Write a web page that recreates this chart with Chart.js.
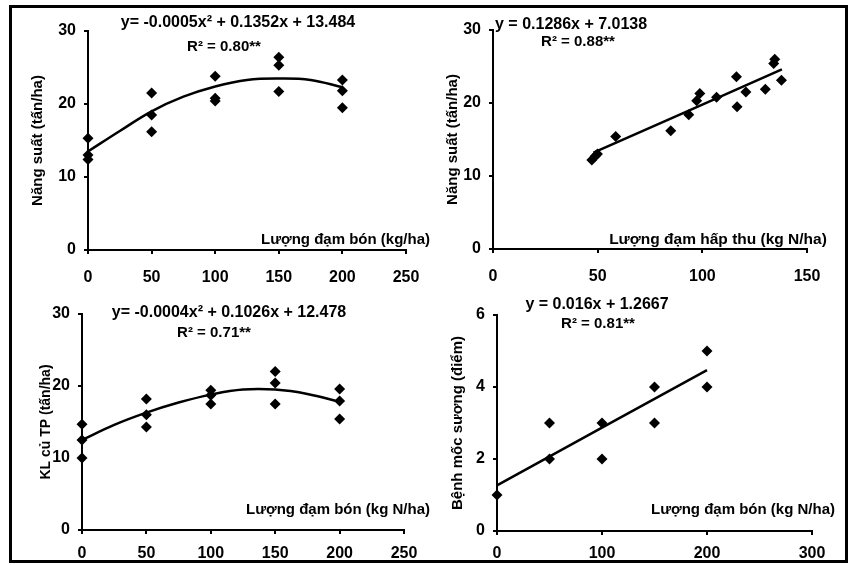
<!DOCTYPE html>
<html>
<head>
<meta charset="utf-8">
<script src="https://cdn.jsdelivr.net/npm/chart.js@4.4.1/dist/chart.umd.min.js"></script>
<style>
body { margin: 0; background: #fff; width: 855px; height: 565px; position: relative; overflow: hidden; }
#frame { position: absolute; left: 9px; top: 5px; width: 833px; height: 552px; border: 3px solid #000; }
canvas { position: absolute; }
</style>
</head>
<body>
<div id="frame"></div>
<canvas id="c1" width="425" height="284" style="left:12px;top:8px;width:425px;height:284px"></canvas>
<canvas id="c2" width="420" height="284" style="left:425px;top:8px;width:420px;height:284px"></canvas>
<canvas id="c3" width="425" height="286" style="left:12px;top:284px;width:425px;height:286px"></canvas>
<canvas id="c4" width="420" height="286" style="left:425px;top:284px;width:420px;height:286px"></canvas>
<script>
// panel 1: yield vs N applied
var doseX1 = [0, 0, 0, 50, 50, 50, 100, 100, 100, 150, 150, 150, 200, 200, 200];
var yield1 = [15.3, 13.0, 12.4, 21.5, 18.5, 16.2, 23.8, 20.8, 20.4, 26.4, 25.3, 21.7, 23.3, 21.8, 19.5];
var trendX1 = [0, 25, 50, 75, 100, 125, 150, 175, 200];
var trendY1 = [13.5, 16.3, 19.0, 21.0, 22.4, 23.3, 23.5, 23.3, 22.3];
var eq1 = 'y= -0.0005x\u00b2 + 0.1352x + 13.484';
var r2_1 = 'R\u00b2 = 0.80**';

// panel 2: yield vs N uptake
var uptake2 = [47.2, 48.8, 49.9, 58.6, 84.9, 93.5, 97.3, 98.8, 106.8, 116.3, 116.6, 120.8, 130.1, 134.6, 134.1, 137.8];
var yield2 = [12.2, 12.7, 13.0, 15.4, 16.2, 18.4, 20.3, 21.3, 20.8, 23.6, 19.5, 21.5, 21.9, 26.0, 25.4, 23.1];
var trendX2 = [48, 138];
var trendY2 = [13.2, 24.6];
var eq2 = 'y = 0.1286x + 7.0138';
var r2_2 = 'R\u00b2 = 0.88**';

// panel 3: marketable tuber weight vs N applied
var doseX3 = [0, 0, 0, 50, 50, 50, 100, 100, 100, 150, 150, 150, 200, 200, 200];
var tuber3 = [14.7, 12.5, 10.0, 18.2, 16.0, 14.3, 19.4, 18.7, 17.5, 22.0, 20.4, 17.5, 19.6, 17.9, 15.4];
var trendX3 = [0, 25, 50, 75, 100, 125, 150, 175, 200];
var trendY3 = [12.5, 14.6, 16.3, 17.7, 18.8, 19.5, 19.5, 18.9, 17.8];
var eq3 = 'y= -0.0004x\u00b2 + 0.1026x + 12.478';
var r2_3 = 'R\u00b2 = 0.71**';

// panel 4: late blight score vs N applied
var doseX4 = [0, 50, 50, 100, 100, 150, 150, 200, 200];
var blight4 = [1, 3, 2, 3, 2, 4, 3, 5, 4];
var trendX4 = [0, 200];
var trendY4 = [1.27, 4.47];
var eq4 = 'y = 0.016x + 1.2667';
var r2_4 = 'R\u00b2 = 0.81**';

var fontFam = '"Liberation Sans", Arial, Helvetica, sans-serif';
Chart.defaults.font.family = fontFam;
Chart.defaults.color = '#000';

var toPts = (xs, ys) => xs.map((x, i) => ({x: x, y: ys[i]}));

var notesPlugin = {
    id: 'notes',
    afterDraw(chart, args, opts) {
        var ctx = chart.ctx;
        ctx.save();
        ctx.fillStyle = '#000';
        ctx.textBaseline = 'middle';
        (opts.items || []).forEach((it) => {
            ctx.font = 'bold ' + (it.size || 15) + 'px ' + fontFam;
            ctx.textAlign = it.align || 'center';
            ctx.fillText(it.text, it.x, it.y);
        });
        ctx.restore();
    }
};

function axis(min, max, step, title, sizeFix, pad, isX, titleSize) {
    var a = {
        type: 'linear', min: min, max: max,
        border: {display: true, color: '#000', width: 2},
        grid: {display: true, drawOnChartArea: false, drawTicks: true, tickLength: 4, color: '#000', lineWidth: 2},
        ticks: {stepSize: step, font: {size: 16, weight: 'bold'}, padding: isX ? pad : 8, color: '#000'},
        afterFit: isX ? (s) => { s.height = sizeFix; } : (s) => { s.width = sizeFix; }
    };
    if (title) a.title = {display: true, text: title, font: {size: titleSize || 15, weight: 'bold'}, color: '#000', padding: {top: pad, bottom: 0}};
    return a;
}

function makePanel(id, p) {
    return new Chart(document.getElementById(id), {
        type: 'scatter',
        data: {
            datasets: [
                {data: toPts(p.xs, p.ys), pointStyle: 'rectRot', pointRadius: 5.5, backgroundColor: '#000', borderColor: '#000', borderWidth: 0, clip: false},
                {data: toPts(p.tx, p.ty), showLine: true, pointRadius: 0, borderColor: '#000', borderWidth: 2.5, tension: 0.4, clip: false}
            ]
        },
        options: {
            responsive: false,
            animation: false,
            layout: {padding: {top: p.padTop, right: p.padRight, left: 0, bottom: 0}},
            plugins: {legend: {display: false}, tooltip: {enabled: false}, notes: {items: p.notes}},
            scales: {
                x: axis(0, p.xMax, p.xStep, null, p.xH, p.xPad, true),
                y: axis(0, p.yMax, p.yStep, p.yTitle, p.yW, p.titlePad, false, p.titleSize)
            }
        },
        plugins: [notesPlugin]
    });
}

makePanel('c1', {
    xs: doseX1, ys: yield1, tx: trendX1, ty: trendY1,
    xMax: 250, xStep: 50, yMax: 30, yStep: 10,
    yTitle: 'Năng suất (tấn/ha)', yW: 76, titlePad: 17, xH: 42, xPad: 14, padTop: 23, padRight: 31,
    notes: [
        {text: eq1, x: 226, y: 15, size: 16},
        {text: r2_1, x: 212, y: 39},
        {text: 'Lượng đạm bón (kg/ha)', x: 418, y: 232, align: 'right'}
    ]
});

makePanel('c2', {
    xs: uptake2, ys: yield2, tx: trendX2, ty: trendY2,
    xMax: 150, xStep: 50, yMax: 30, yStep: 10,
    yTitle: 'Năng suất (tấn/ha)', yW: 68, titlePad: 19, xH: 43, xPad: 14, padTop: 22, padRight: 38,
    notes: [
        {text: eq2, x: 70, y: 17, size: 16, align: 'left'},
        {text: r2_2, x: 153, y: 34},
        {text: 'Lượng đạm hấp thu (kg N/ha)', x: 293, y: 232, size: 15.5}
    ]
});

makePanel('c3', {
    xs: doseX3, ys: tuber3, tx: trendX3, ty: trendY3,
    xMax: 250, xStep: 50, yMax: 30, yStep: 10,
    yTitle: 'KL củ TP (tấn/ha)', yW: 70, titlePad: 26, titleSize: 14, xH: 40, xPad: 10, padTop: 30, padRight: 33,
    notes: [
        {text: eq3, x: 217, y: 29, size: 16},
        {text: r2_3, x: 202, y: 49},
        {text: 'Lượng đạm bón (kg N/ha)', x: 418, y: 226, align: 'right'}
    ]
});

makePanel('c4', {
    xs: doseX4, ys: blight4, tx: trendX4, ty: trendY4,
    xMax: 300, xStep: 100, yMax: 6, yStep: 2,
    yTitle: 'Bệnh mốc sương (điểm)', yW: 72, titlePad: 24, xH: 39, xPad: 9, padTop: 31, padRight: 33,
    notes: [
        {text: eq4, x: 172, y: 21, size: 16},
        {text: r2_4, x: 173, y: 40},
        {text: 'Lượng đạm bón (kg N/ha)', x: 318, y: 226}
    ]
});
</script>
</body>
</html>
